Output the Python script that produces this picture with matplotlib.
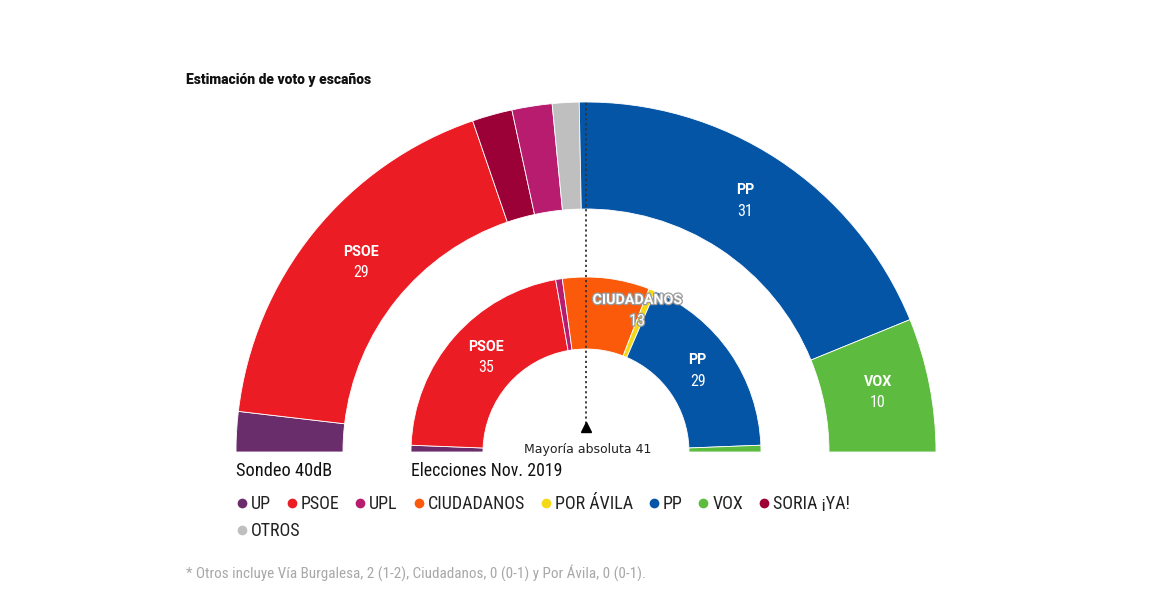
import matplotlib
matplotlib.use("Agg")
import numpy as np
import matplotlib.pyplot as plt
from matplotlib.patches import Wedge
from matplotlib.lines import Line2D
import matplotlib.patheffects as pe
from matplotlib import font_manager

# ---------------- data ----------------
party_names = ['UP', 'PSOE', 'UPL', 'CIUDADANOS', 'POR ÁVILA', 'PP', 'VOX', 'SORIA ¡YA!', 'OTROS']
party_colors = ['#6a2d6b', '#ec1c24', '#b71c6e', '#fa5a0a', '#f6d916', '#0555a6', '#5dbb3f', '#9b0037', '#bfbfbf']

sondeo_parties = ['UP', 'PSOE', 'SORIA ¡YA!', 'UPL', 'OTROS', 'PP', 'VOX']
sondeo_seats = [3, 29, 3, 3, 2, 31, 10]

elecciones_parties = ['UP', 'PSOE', 'UPL', 'CIUDADANOS', 'POR ÁVILA', 'PP', 'VOX']
elecciones_seats = [1, 35, 1, 13, 1, 29, 1]

total_seats = 81
majority = 41
label_min = 10

title = 'Estimación de voto y escaños'
outer_caption = 'Sondeo 40dB'
inner_caption = 'Elecciones Nov. 2019'
majority_text = 'Mayoría absoluta 41'
footnote = '* Otros incluye Vía Burgalesa, 2 (1-2), Ciudadanos, 0 (0-1) y Por Ávila, 0 (0-1).'

# ---------------- fonts ----------------
weights = {}
for f in font_manager.fontManager.ttflist:
    w = f.weight if isinstance(f.weight, int) else 400
    weights.setdefault(f.name, set()).add(w)


def pick(cands, min_w=0):
    for c in cands:
        if c in weights and max(weights[c]) >= min_w:
            return c
    return 'DejaVu Sans'


cond = pick(['Roboto Condensed', 'Archivo Narrow', 'Asap Condensed', 'Liberation Sans'])
boldf = pick(['Libre Franklin', 'Roboto', 'Liberation Sans'], 700)
heavyf = pick(['Libre Franklin', 'Roboto', 'Lato', 'Liberation Sans'], 800)
COND = [cond, 'DejaVu Sans']
BOLD = [boldf, 'DejaVu Sans']
HEAVY = [heavyf, 'DejaVu Sans']

color_of = dict(zip(party_names, party_colors))

fig = plt.figure(figsize=(11.75, 6.09), dpi=100)
ax = fig.add_axes([0, 0, 1, 1])
ax.set_xlim(0, 1175)
ax.set_ylim(609, 0)
ax.axis('off')

cx, cy = 586, 452


def ring(parties, seats, r_out, r_in, offsets):
    cum = 0
    for p, s in zip(parties, seats):
        a0 = 180 + 180 * cum / total_seats
        a1 = 180 + 180 * (cum + s) / total_seats
        ax.add_patch(Wedge((cx, cy), r_out, a0, a1, width=r_out - r_in,
                           facecolor=color_of[p], edgecolor='white', linewidth=0.6))
        if s >= label_min:
            t = np.deg2rad((a0 + a1) / 2)
            rm = (r_out + r_in) / 2
            x = cx + rm * np.cos(t)
            y = cy + rm * np.sin(t)
            dx, dy = offsets.get(p, (0, 0))
            x += dx
            y += dy
            halo = [pe.withStroke(linewidth=1.8, foreground='#9a9a9a')] if p == 'CIUDADANOS' else None
            ax.text(x, y - 10, p, color='white', fontsize=10.3, fontweight='bold',
                    family=BOLD, ha='center', va='center', path_effects=halo)
            ax.text(x, y + 11, str(s), color='white', fontsize=11.5,
                    family=COND, ha='center', va='center', path_effects=halo)
        cum += s


ring(sondeo_parties, sondeo_seats, 350, 243, {'PSOE': (6, -4), 'PP': (-4, -4), 'VOX': (1, -3)})
ring(elecciones_parties, elecciones_seats, 175, 103, {'PSOE': (5, -4), 'CIUDADANOS': (35, -4), 'PP': (-3, -3)})

# majority line
ax.plot([cx, cx], [cy - 349, cy - 28], linestyle=(0, (1.2, 1.6)), color='#333333', lw=1.3)
ax.plot(cx, cy - 25, marker='^', markersize=6.5, color='black', linestyle='none')
ax.text(cx + 2, cy - 3, majority_text, ha='center', va='center', fontsize=9,
        family='DejaVu Sans', color='#222222')

# captions
ax.text(cx - 350, 471, outer_caption, ha='left', va='center', fontsize=13.2, family=COND, color='#111111')
ax.text(cx - 175, 471, inner_caption, ha='left', va='center', fontsize=12.8, family=COND, color='#111111')

# title
ax.text(186, 80, title, ha='left', va='center', fontsize=10, fontweight=800, family=HEAVY, color='#111111')

# legend
legend_order = party_names
handles = [Line2D([], [], marker='o', linestyle='none', markersize=7, markerfacecolor=color_of[p],
                  markeredgecolor='none', label=p) for p in legend_order]
leg_font = {'family': COND, 'size': 13}
leg_kw = dict(frameon=False, handlelength=0.5, handletextpad=0.25, columnspacing=0.9,
              prop=leg_font, borderaxespad=0, borderpad=0)
leg1 = fig.legend(handles=handles[:8], loc='center left', bbox_to_anchor=(237.5 / 1175, 1 - 504 / 609),
                  ncol=8, **leg_kw)
leg2 = fig.legend(handles=handles[8:], loc='center left', bbox_to_anchor=(237.5 / 1175, 1 - 531 / 609),
                  ncol=1, **leg_kw)
for lg in (leg1, leg2):
    for t in lg.get_texts():
        t.set_color('#222222')

# footnote
ax.text(186, 573, footnote, ha='left', va='center', fontsize=10.9, family=COND, color='#a8a8a8')

fig.savefig('out.png', dpi=100, facecolor='white')
